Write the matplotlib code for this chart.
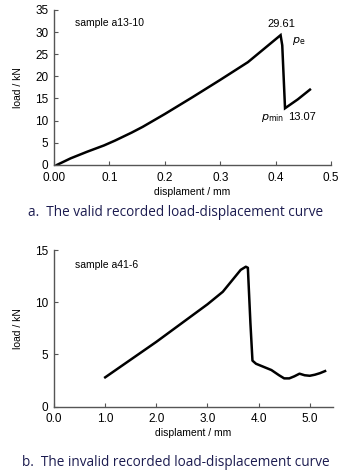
import matplotlib
matplotlib.use("Agg")
import matplotlib.pyplot as plt

# sample a13-10 (valid curve)
disp_a = [0.005, 0.03, 0.06, 0.09, 0.11, 0.14, 0.16, 0.2, 0.25, 0.3, 0.35, 0.38, 0.409, 0.412, 0.417, 0.44, 0.462]
load_a = [0.0, 1.5, 3.0, 4.4, 5.5, 7.3, 8.6, 11.5, 15.3, 19.2, 23.2, 26.3, 29.3, 27.0, 12.8, 14.8, 17.0]

# sample a41-6 (invalid curve)
disp_b = [1.0, 1.5, 2.0, 2.5, 3.0, 3.3, 3.5, 3.65, 3.75, 3.79, 3.84, 3.88, 3.95, 4.1, 4.25, 4.4, 4.5, 4.6,
          4.7, 4.8, 4.9, 5.0, 5.1, 5.2, 5.3]
load_b = [2.8, 4.5, 6.2, 8.0, 9.8, 11.0, 12.2, 13.1, 13.4, 13.3, 8.0, 4.4, 4.1, 3.8, 3.5, 3.0, 2.7, 2.7,
          2.9, 3.15, 3.0, 2.95, 3.05, 3.2, 3.4]

tick_font = "Liberation Sans"
cap_color = "#1c1c50"
spine_color = "#555555"

fig = plt.figure(figsize=(3.51, 4.70), dpi=100)
ax1 = fig.add_axes([0.154, 0.649, 0.789, 0.330])
ax2 = fig.add_axes([0.154, 0.135, 0.794, 0.333])


def style(ax):
    for s in ["top", "right"]:
        ax.spines[s].set_visible(False)
    for s in ["left", "bottom"]:
        ax.spines[s].set_color(spine_color)
        ax.spines[s].set_linewidth(1.0)
    ax.tick_params(direction="in", length=3, width=0.8, color=spine_color,
                   labelsize=8.5)
    ax.tick_params(axis="y", pad=4)
    ax.tick_params(axis="x", pad=5)
    for lab in ax.get_xticklabels() + ax.get_yticklabels():
        lab.set_family(tick_font)
    ax.set_ylabel("load / kN", fontsize=7.5, family=tick_font, labelpad=9)
    ax.set_xlabel("displament / mm", fontsize=7.5, family=tick_font, labelpad=2)


ax1.plot(disp_a, load_a, color="black", lw=1.8, solid_joinstyle="miter")
ax1.set_xlim(0, 0.5)
ax1.set_ylim(0, 35)
ax1.set_xticks([0, 0.1, 0.2, 0.3, 0.4, 0.5])
ax1.set_xticklabels(["0.00", "0.1", "0.2", "0.3", "0.4", "0.5"])
ax1.set_yticks(range(0, 36, 5))
style(ax1)
ax1.text(0.038, 32.1, "sample a13-10", fontsize=7.5, family=tick_font, va="center")
ax1.text(0.41, 31.8, "29.61", fontsize=8, family=tick_font, ha="center", va="center")
ax1.text(0.43, 28.0, r"$p_{\rm e}$", fontsize=8, ha="left", va="center")
ax1.text(0.395, 10.6, r"$p_{\rm min}$", fontsize=8, ha="center", va="center")
ax1.text(0.447, 10.9, "13.07", fontsize=8, family=tick_font, ha="center", va="center")

ax2.plot(disp_b, load_b, color="black", lw=1.8)
ax2.set_xlim(0, 5.45)
ax2.set_ylim(0, 15)
ax2.set_xticks([0, 1, 2, 3, 4, 5])
ax2.set_xticklabels(["0.0", "1.0", "2.0", "3.0", "4.0", "5.0"])
ax2.set_yticks([0, 5, 10, 15])
style(ax2)
ax2.text(0.41, 13.56, "sample a41-6", fontsize=7.5, family=tick_font, va="center")

fig.text(0.5, 1 - 213 / 470, "a.  The valid recorded load-displacement curve",
         ha="center", va="center", fontsize=9.8, color=cap_color, family="Open Sans")
fig.text(0.5, 1 - 463 / 470, "b.  The invalid recorded load-displacement curve",
         ha="center", va="center", fontsize=9.8, color=cap_color, family="Open Sans")

fig.savefig("out.png", dpi=100)
